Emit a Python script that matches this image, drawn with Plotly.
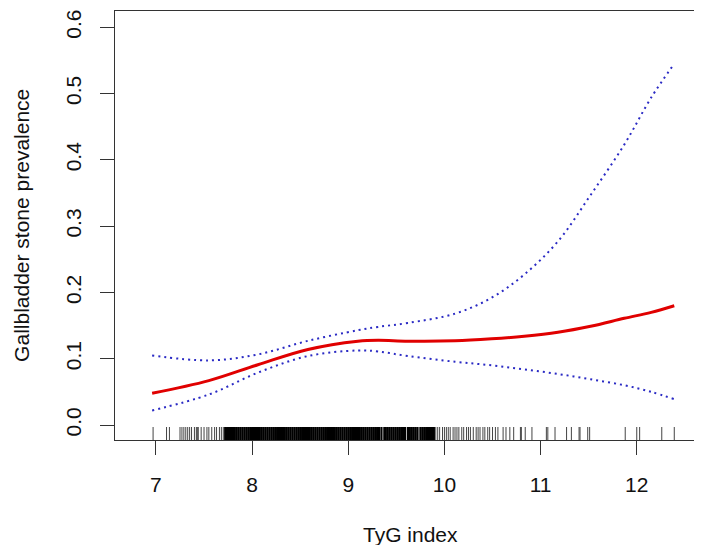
import plotly.graph_objects as go

# ── smooth-curve readings (TyG index vs prevalence) ──────────────────────
tyg = [6.96, 7.55, 8.06, 8.58, 9.10, 9.31, 9.62, 10.11, 10.49, 10.83,
       11.18, 11.52, 11.87, 12.15, 12.39]
fit = [0.048, 0.067, 0.091, 0.114, 0.1265, 0.128, 0.1265, 0.127, 0.130,
       0.134, 0.140, 0.149, 0.161, 0.170, 0.180]
upper = [0.105, 0.0975, 0.1065, 0.127, 0.143, 0.148, 0.154, 0.168, 0.192,
         0.227, 0.277, 0.347, 0.423, 0.494, 0.545]
lower = [0.022, 0.046, 0.079, 0.104, 0.1125, 0.111, 0.104, 0.0955, 0.090,
         0.084, 0.077, 0.069, 0.060, 0.050, 0.039]

# rug: observed TyG values (dense block drawn with a heavier stroke)
rug_dense = [
    7.72, 7.74, 7.76, 7.78, 7.80, 7.82, 7.84, 7.86, 7.88, 7.90,
    7.92, 7.94, 7.96, 7.98, 8.00, 8.02, 8.04, 8.06, 8.08, 8.10,
    8.12, 8.14, 8.16, 8.18, 8.20, 8.22, 8.24, 8.26, 8.28, 8.30,
    8.32, 8.34, 8.36, 8.38, 8.40, 8.42, 8.44, 8.46, 8.48, 8.50,
    8.52, 8.54, 8.56, 8.58, 8.60, 8.62, 8.64, 8.66, 8.68, 8.70,
    8.72, 8.74, 8.76, 8.78, 8.80, 8.82, 8.84, 8.86, 8.88, 8.90,
    8.92, 8.94, 8.96, 8.98, 9.00, 9.02, 9.04, 9.06, 9.08, 9.10,
    9.12, 9.14, 9.16, 9.18, 9.20, 9.22, 9.24, 9.26, 9.28, 9.30,
    9.32, 9.345,
    9.375, 9.39, 9.41, 9.43, 9.45, 9.47, 9.49, 9.51, 9.53, 9.55, 9.57,
    9.59, 9.62, 9.64, 9.66, 9.68, 9.70, 9.72,
    9.75, 9.77, 9.79, 9.81, 9.83, 9.85, 9.87, 9.89,
]
rug_sparse = [
    6.97, 7.11, 7.14, 7.25, 7.27, 7.29, 7.31, 7.33, 7.35, 7.37, 7.40,
    7.42, 7.43, 7.44, 7.47, 7.50, 7.53, 7.55, 7.58, 7.61, 7.63, 7.66,
    7.68, 7.70,
    9.91, 9.93, 9.95, 9.98, 10.00, 10.02, 10.04, 10.06, 10.09, 10.11,
    10.13, 10.15, 10.18, 10.20, 10.23, 10.25, 10.27,
    10.30, 10.33, 10.35, 10.37, 10.40, 10.42, 10.45, 10.47, 10.50, 10.53,
    10.556, 10.61, 10.64, 10.68, 10.72, 10.79, 10.80, 10.84, 10.91,
    11.06, 11.075, 11.15, 11.27, 11.32, 11.40, 11.41, 11.49, 11.51,
    11.88, 12.00, 12.03, 12.26, 12.39,
]

X_RANGE = [6.574, 12.72]
Y_RANGE = [-0.0226, 0.6246]
RUG_TOP = -0.003
FONT = "Arial, Liberation Sans, sans-serif"


def rug_xy(vals):
    xs, ys = [], []
    for v in vals:
        xs += [v, v, None]
        ys += [Y_RANGE[0], RUG_TOP, None]
    return xs, ys


fig = go.Figure()

dx, dy = rug_xy(rug_dense)
fig.add_trace(go.Scatter(x=dx, y=dy, mode="lines",
                         line=dict(color="black", width=2.2), hoverinfo="skip"))
sx, sy = rug_xy(rug_sparse)
fig.add_trace(go.Scatter(x=sx, y=sy, mode="lines",
                         line=dict(color="#444444", width=1), hoverinfo="skip"))

for band in (upper, lower):
    fig.add_trace(go.Scatter(x=tyg, y=band, mode="lines",
                             line=dict(color="#2a2ac4", width=2, dash="2px,4px",
                                       shape="spline")))
fig.add_trace(go.Scatter(x=tyg, y=fit, mode="lines",
                         line=dict(color="#e00000", width=3, shape="spline")))

axis_common = dict(
    showline=True, linecolor="#333333", linewidth=1.3, mirror=True,
    ticks="outside", ticklen=14, tickcolor="#333333", tickwidth=1.3,
    showgrid=False, zeroline=False, automargin=False,
    tickfont=dict(family=FONT, size=21, color="#111111"),
)

fig.update_layout(
    width=702, height=545,
    margin=dict(l=107, r=4, t=3, b=113),
    paper_bgcolor="white", plot_bgcolor="white",
    showlegend=False,
    xaxis=dict(range=X_RANGE, tickvals=[7, 8, 9, 10, 11, 12],
               ticklabelstandoff=12, **axis_common),
    yaxis=dict(range=Y_RANGE, tickvals=[0.0, 0.1, 0.2, 0.3, 0.4, 0.5, 0.6],
               tickformat=".1f", tickangle=-90, ticklabelstandoff=10,
               **axis_common),
    annotations=[
        dict(text="TyG index", xref="paper", yref="paper", x=0.5, y=-0.2206,
             xanchor="center", yanchor="middle", showarrow=False,
             font=dict(family=FONT, size=21, color="#111111")),
        dict(text="Gallbladder stone prevalence", xref="paper", yref="paper",
             x=-0.1584, y=0.5, textangle=-90, xanchor="center",
             yanchor="middle", showarrow=False,
             font=dict(family=FONT, size=21, color="#111111")),
    ],
)

fig.write_html("out.html")
